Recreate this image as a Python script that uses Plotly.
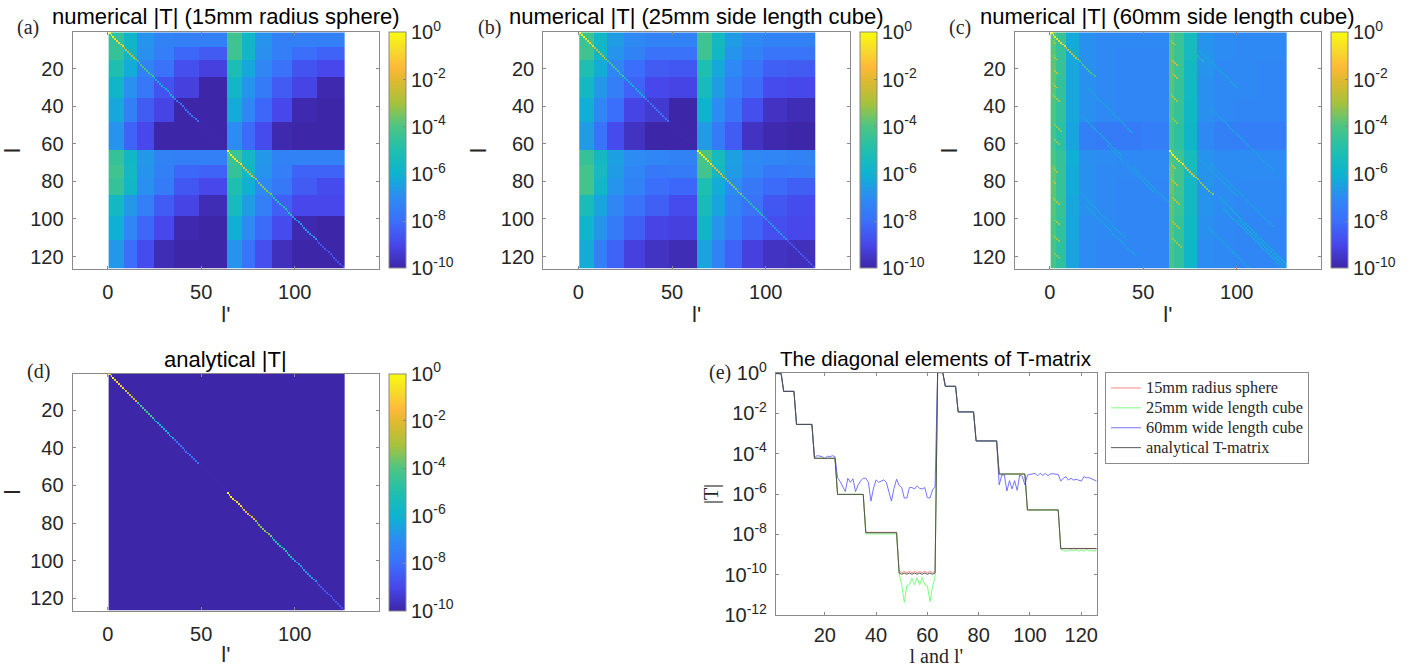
import numpy as np
import plotly.graph_objects as go

W, H = 1410, 667

# ---------- data (log10 |T|) ----------
block_edges = [0, 8, 15, 24, 35, 48, 63, 71, 78, 87, 98, 111, 126]
diag_edges = [0, 3, 8, 15, 24, 35, 48, 63, 66, 71, 78, 87, 98, 111, 126]
c_col_edges = [0, 3, 8, 15, 24, 35, 48, 63, 66, 71, 78, 87, 98, 111, 126]
index_values = list(range(1, 127))

table_a = [
    [-4.6, -5.8, -6.8, -7.3, -7.4, -7.4, -4.3, -5.7, -6.8, -7.4, -7.4, -7.4],
    [-4.5, -5.8, -6.9, -7.5, -8.2, -8.5, -4.3, -5.7, -6.9, -7.5, -8.0, -8.3],
    [-5.1, -6.2, -7.3, -7.9, -8.8, -9.2, -5.2, -6.3, -7.2, -7.9, -8.7, -9.0],
    [-5.8, -6.9, -7.7, -8.7, -9.2, -10., -5.7, -6.8, -7.6, -8.5, -9.1, -9.9],
    [-6.3, -7.4, -8.5, -9.1, -10., -10., -6.2, -7.2, -8.2, -9.0, -9.9, -10.],
    [-6.8, -8.3, -9.0, -10., -10., -10., -7.0, -8.1, -8.9, -9.9, -10., -10.],
    [-4.5, -5.7, -6.7, -7.3, -7.4, -7.4, -4.4, -5.6, -6.7, -7.3, -7.3, -7.3],
    [-4.3, -5.6, -6.8, -7.4, -8.2, -8.3, -4.5, -5.7, -6.8, -7.5, -8.3, -8.3],
    [-4.5, -5.7, -6.9, -7.6, -8.6, -9.0, -5.1, -6.1, -7.1, -7.7, -8.5, -8.9],
    [-5.6, -6.7, -7.5, -8.5, -9.1, -9.8, -5.5, -6.6, -7.5, -8.4, -9.0, -9.0],
    [-6.1, -7.2, -8.2, -9.0, -9.9, -10., -6.1, -7.1, -8.1, -8.9, -9.9, -10.],
    [-6.7, -8.0, -8.9, -9.8, -10., -10., -6.8, -7.9, -8.8, -9.7, -10., -10.],
]
table_b = [
    [-4.4, -5.7, -6.6, -7.1, -7.3, -7.3, -4.3, -5.6, -6.6, -7.1, -7.3, -7.3],
    [-4.3, -5.7, -6.8, -7.3, -7.9, -7.9, -4.3, -5.7, -6.8, -7.3, -7.8, -7.8],
    [-5.1, -6.2, -7.2, -8.0, -8.5, -8.6, -5.1, -6.3, -7.1, -7.8, -8.4, -8.5],
    [-5.6, -6.7, -7.5, -8.3, -9.0, -9.1, -5.5, -6.6, -7.5, -8.1, -8.9, -9.0],
    [-6.1, -7.2, -8.0, -9.1, -9.4, -10., -6.0, -7.0, -7.9, -8.8, -9.6, -9.8],
    [-6.6, -7.9, -8.9, -9.6, -10., -10., -6.6, -7.6, -8.5, -9.6, -9.9, -10.],
    [-4.5, -5.6, -6.5, -7.0, -7.2, -7.3, -4.1, -5.5, -6.5, -7.1, -7.2, -7.3],
    [-4.2, -5.5, -6.6, -7.2, -7.7, -7.6, -4.2, -5.6, -6.6, -7.2, -7.7, -7.6],
    [-4.2, -5.7, -6.8, -7.3, -8.0, -8.2, -5.1, -6.2, -7.0, -7.7, -8.1, -8.4],
    [-5.3, -6.4, -7.2, -7.9, -8.4, -8.9, -5.4, -6.4, -7.3, -7.9, -8.6, -8.9],
    [-5.9, -6.8, -7.6, -8.4, -9.1, -9.2, -5.8, -6.8, -7.6, -8.3, -8.8, -9.0],
    [-6.2, -7.5, -8.3, -9.2, -9.6, -9.8, -6.4, -7.3, -8.3, -9.2, -9.6, -9.7],
]
table_c = [
    [-3.9, -4.5, -6.2, -6.9, -7.1, -7.1, -7.1, -3.9, -4.4, -5.5, -6.8, -7.0, -7.1, -7.1],
    [-3.9, -4.5, -6.2, -6.9, -7.1, -7.2, -7.2, -3.8, -4.4, -5.5, -6.8, -7.0, -7.1, -7.1],
    [-3.8, -4.5, -6.3, -6.9, -7.1, -7.2, -7.2, -3.8, -4.4, -5.6, -6.8, -7.1, -7.1, -7.2],
    [-3.8, -4.6, -6.3, -6.9, -7.1, -7.2, -7.2, -3.9, -4.5, -5.6, -6.9, -7.1, -7.1, -7.2],
    [-4.0, -4.6, -6.3, -6.9, -7.1, -7.2, -7.2, -4.0, -4.5, -5.7, -6.9, -7.1, -7.2, -7.2],
    [-4.2, -4.8, -6.4, -7.4, -7.6, -7.6, -7.5, -4.2, -4.7, -5.8, -7.1, -7.4, -7.5, -7.5],
    [-4.0, -4.5, -6.1, -6.9, -7.0, -7.1, -7.1, -3.9, -4.4, -5.4, -6.8, -7.0, -7.0, -7.0],
    [-3.8, -4.5, -6.2, -6.9, -7.1, -7.1, -7.1, -3.7, -4.3, -5.5, -6.8, -7.0, -7.0, -7.0],
    [-3.8, -4.5, -6.2, -6.9, -7.1, -7.2, -7.2, -3.7, -4.3, -5.6, -6.8, -7.0, -7.1, -7.1],
    [-3.9, -4.5, -6.3, -6.9, -7.1, -7.2, -7.2, -3.8, -4.4, -5.6, -6.8, -7.0, -7.1, -7.1],
    [-4.0, -4.6, -6.3, -7.0, -7.1, -7.2, -7.2, -3.9, -4.5, -5.7, -6.9, -7.1, -7.2, -7.2],
    [-4.1, -4.7, -6.4, -7.0, -7.2, -7.2, -7.2, -4.1, -4.6, -5.8, -7.0, -7.1, -7.2, -7.2],
]
# faint diagonal streaks seen in panel (c): first row, first column, length, log10 |T|
c_streaks = [
    (4, 1, 2, -2.9), (12, 1, 3, -2.7), (20, 2, 2, -2.6), (27, 1, 3, -2.7), (33, 1, 4, -3.0),
    (48, 1, 5, -3.3), (57, 2, 3, -3.2), (72, 1, 3, -2.8), (79, 1, 2, -2.6), (88, 1, 4, -2.8),
    (100, 2, 3, -3.0), (108, 1, 4, -3.1), (118, 2, 3, -3.3),
    (4, 64, 3, -2.8), (14, 64, 4, -2.5), (22, 65, 3, -2.6), (33, 64, 4, -2.9), (46, 65, 3, -3.2),
    (70, 64, 3, -2.8), (78, 64, 4, -2.6), (88, 65, 4, -2.7), (100, 64, 5, -3.0), (110, 65, 5, -3.2),
    (30, 20, 24, -6.5), (44, 16, 22, -6.5), (60, 30, 26, -6.6), (80, 10, 30, -6.5),
    (92, 18, 28, -6.5), (72, 44, 30, -6.6), (2, 68, 14, -5.3), (10, 80, 20, -6.4),
    (40, 85, 34, -6.6), (60, 72, 28, -6.5), (88, 90, 37, -6.3), (94, 92, 32, -6.4),
    (70, 85, 34, -6.6), (100, 100, 26, -6.3), (104, 84, 22, -6.5),
]
# step levels of the diagonal, one per block of diag_edges
analytical_levels = [-0.03, -0.91, -2.55, -4.23, -6.02, -7.92, -9.95,
                     0.02, -0.66, -1.93, -3.37, -5.01, -6.79, -8.71]
sphere_levels = [-0.03, -0.91, -2.55, -4.23, -6.02, -7.90, -9.86,
                 0.02, -0.66, -1.93, -3.37, -5.01, -6.79, -8.70]
cube25_levels = [-0.03, -0.91, -2.55, -4.23, -6.02, -7.98, -10.5,
                 0.02, -0.66, -1.93, -3.37, -5.01, -6.80, -8.80]
cube25_block7 = [-9.97, -10.5, -11.37, -10.55, -10.5, -10.18, -10.5, -10.15, -10.5,
                 -10.15, -10.5, -10.55, -11.34, -10.6, -10.1]
cube25_block14 = [-8.74, -8.79, -8.84, -8.81, -8.76, -8.82, -8.76, -8.84, -8.79,
                  -8.84, -8.74, -8.82, -8.81, -8.84, -8.77]
cube60_16_24 = [-4.2, -4.1, -4.12, -4.15, -4.25, -4.12, -4.15, -4.1, -4.15]
cube60_25_63 = [-5.2, -5.38, -5.62, -5.88, -5.22, -5.42, -5.25, -5.88, -5.55, -5.35, -5.22,
                -5.22, -5.42, -6.35, -5.72, -5.3, -5.42, -5.35, -5.3, -5.42, -5.95, -6.35,
                -5.72, -5.27, -5.58, -5.68, -6.2, -6.2, -5.68, -5.68, -5.75, -5.6, -5.72,
                -5.75, -5.68, -6.18, -6.2, -5.8, -5.64]
cube60_88_126 = [-5.55, -5.06, -5.06, -5.85, -5.34, -5.75, -5.34, -5.82, -5.06, -5.13, -5.55,
                 -5.06, -5.03, -5.02, -4.98, -5.1, -4.97, -5.08, -4.98, -5.1, -5.0, -5.0,
                 -5.03, -5.03, -5.36, -5.22, -5.14, -5.31, -5.22, -5.31, -5.27, -5.31, -5.36,
                 -5.14, -5.19, -5.19, -5.26, -5.31, -5.36]
sphere_block7_band = [-9.84, -9.9, -9.84, -9.9, -9.84, -9.9, -9.84, -9.9, -9.84, -9.9, -9.84,
                      -9.9, -9.84, -9.9, -9.84]
analytical_block7_band = [-9.92, -9.98, -9.92, -9.98, -9.92, -9.98, -9.92, -9.98, -9.92, -9.98,
                          -9.92, -9.98, -9.92, -9.98, -9.92]

x_ticks_heat = [0, 50, 100]
y_ticks_heat = [20, 40, 60, 80, 100, 120]
cbar_exponents = [0, -2, -4, -6, -8, -10]
x_ticks_line = [20, 40, 60, 80, 100, 120]
y_exponents_line = [0, -2, -4, -6, -8, -10, -12]
series_names = ["15mm radius sphere", "25mm wide length cube", "60mm wide length cube", "analytical T-matrix"]
series_colors = ["#ff7a7a", "#70ff70", "#6464ff", "#454545"]
panel_titles = ["numerical |T| (15mm radius sphere)", "numerical |T| (25mm side length cube)",
                "numerical |T| (60mm side length cube)", "analytical |T|"]
panel_tags = ["(a)", "(b)", "(c)", "(d)", "(e)"]

parula = [[0.0, "#3e26a8"], [0.1, "#4747eb"], [0.2, "#3b6ffb"], [0.3, "#2d8cf3"], [0.4, "#0cb4cf"],
          [0.5, "#20bfae"], [0.6, "#4cc583"], [0.7, "#a8c23c"], [0.8, "#e2b92f"], [0.85, "#feb938"],
          [0.92, "#f7d92c"], [1.0, "#f9fb0e"]]


def steps(levels):
    out = []
    for k, v in enumerate(levels):
        out += [v] * (diag_edges[k + 1] - diag_edges[k])
    return out


def matrix(table, cols, rows=block_edges):
    z = np.full((126, 126), -10.0)
    for r, row in enumerate(table):
        for c, v in enumerate(row):
            z[rows[r]:rows[r + 1], cols[c]:cols[c + 1]] = v
    return z


def put_diag(z, values):
    for i, v in enumerate(values):
        if v is not None:
            z[i, i] = max(z[i, i], v)
    return z


analytical = steps(analytical_levels)
sphere = steps(sphere_levels)
cube25 = steps(cube25_levels)
cube60 = steps(analytical_levels)
analytical[48:63] = analytical_block7_band
sphere[48:63] = sphere_block7_band
cube25[48:63] = cube25_block7
cube25[111:126] = cube25_block14
cube60[15:24] = cube60_16_24
cube60[24:63] = cube60_25_63
cube60[87:126] = cube60_88_126

z_a = put_diag(matrix(table_a, block_edges), steps(analytical_levels))
z_b = put_diag(matrix(table_b, block_edges), steps(analytical_levels))
z_c = matrix(table_c, c_col_edges)
for r0, c0, n, v in c_streaks:
    for k in range(n):
        if r0 + k < 126 and c0 + k < 126:
            z_c[r0 + k, c0 + k] = max(z_c[r0 + k, c0 + k], v)
vis = steps(analytical_levels)
put_diag(z_c, vis[:24] + [None] * 39 + vis[63:87] + [None] * 39)
z_d = put_diag(np.full((126, 126), -10.0), steps(analytical_levels))

# ---------- layout helpers ----------
GRAY = "#8a8a8a"
TXT = "#262626"
SANS = "Liberation Sans, Arial, sans-serif"
SERIF = "Liberation Serif, Times New Roman, serif"
FS = 20

boxes = [(72.7, 379, 32.3, 268.7), (543.3, 850, 32.3, 268.7), (1014.7, 1321, 32.3, 268.7), (72.7, 379, 373.5, 610.5)]
cbar_left = [389, 860, 1331, 389]
tag_pos = [(28, 28), (489, 27), (960, 27), (38, 371), (720, 372)]
title_y = [17, 17, 17, 359]

fig = go.Figure()
layout = {}
annotations = []


def sup(e):
    return "10<sup>%d</sup>" % e


for i, z in enumerate([z_a, z_b, z_c, z_d]):
    x0, x1, y0, y1 = boxes[i]
    n = "" if i == 0 else str(i + 1)
    fig.add_trace(go.Heatmap(
        z=z, x=index_values, y=index_values, zmin=-10, zmax=0, colorscale=parula,
        xaxis="x" + n, yaxis="y" + n,
        colorbar=dict(x=cbar_left[i] / W, xanchor="left", xpad=0, ypad=0,
                      y=1 - y0 / H, yanchor="top", len=y1 - y0, lenmode="pixels",
                      thickness=17, thicknessmode="pixels",
                      tickvals=cbar_exponents, ticktext=[sup(e) for e in cbar_exponents],
                      ticks="inside", ticklen=3, tickcolor=GRAY,
                      tickfont=dict(family=SANS, size=FS, color=TXT),
                      outlinecolor=GRAY, outlinewidth=1),
    ))
    layout["xaxis" + n] = dict(
        domain=[x0 / W, x1 / W], anchor="y" + n, range=[-18.7, 145], tickmode="array", tickvals=x_ticks_heat,
        ticks="inside", ticklen=3, tickcolor=GRAY, showgrid=False, zeroline=False, showline=True, linecolor=GRAY,
        linewidth=1.2, mirror="ticks", ticklabelstandoff=5, tickfont=dict(family=SANS, size=FS, color=TXT),
        title=dict(text="l'", standoff=4, font=dict(family=SANS, size=22, color=TXT)))
    layout["yaxis" + n] = dict(
        domain=[1 - y1 / H, 1 - y0 / H], anchor="x" + n, range=[126.5, 0.5], tickmode="array", tickvals=y_ticks_heat,
        ticks="inside", ticklen=3, tickcolor=GRAY, showgrid=False, zeroline=False, showline=True, linecolor=GRAY,
        linewidth=1.2, mirror="ticks", ticklabelstandoff=4, tickfont=dict(family=SANS, size=FS, color=TXT),
        title=dict(text="l", standoff=8, font=dict(family=SANS, size=22, color=TXT)))
    annotations.append(dict(text=panel_titles[i], x=(x0 + x1) / 2 / W, y=1 - title_y[i] / H, xref="paper", yref="paper",
                            showarrow=False, xanchor="center", yanchor="middle",
                            font=dict(family=SANS, size=22, color="#000000")))

for name, vals, col in zip(series_names, [sphere, cube25, cube60, analytical], series_colors):
    fig.add_trace(go.Scatter(x=index_values, y=[10.0 ** v for v in vals], mode="lines",
                             name='<span style="font-size:16.3px">%s</span>' % name,
                             line=dict(color=col, width=0.9), xaxis="x5", yaxis="y5"))

ex0, ex1, ey0, ey1 = 776, 1096.7, 373, 615
layout["xaxis5"] = dict(
    domain=[ex0 / W, ex1 / W], anchor="y5", range=[1, 126], tickmode="array", tickvals=x_ticks_line,
    ticks="inside", ticklen=3, tickcolor=GRAY, showgrid=False, zeroline=False, showline=True, linecolor=GRAY,
    linewidth=1.2, mirror="ticks", ticklabelstandoff=2, tickfont=dict(family=SANS, size=FS, color=TXT),
    title=dict(text="l and l'", standoff=7, font=dict(family=SERIF, size=20, color=TXT)))
layout["yaxis5"] = dict(
    domain=[1 - ey1 / H, 1 - ey0 / H], anchor="x5", type="log", range=[-12, 0], tickmode="array",
    tickvals=[10.0 ** e for e in y_exponents_line], ticktext=[sup(e) for e in y_exponents_line],
    ticks="inside", ticklen=3, tickcolor=GRAY, showgrid=False, zeroline=False, showline=True, linecolor=GRAY,
    linewidth=1.2, mirror="ticks", ticklabelstandoff=4, tickfont=dict(family=SANS, size=FS, color=TXT),
    title=dict(text="|T|", standoff=0, font=dict(family=SERIF, size=20, color=TXT)))
annotations.append(dict(text="The diagonal elements of T-matrix", x=(ex0 + ex1) / 2 / W, y=1 - 358 / H,
                        xref="paper", yref="paper", showarrow=False, xanchor="center", yanchor="middle",
                        font=dict(family=SANS, size=20.6, color="#000000")))
for tag, (tx, ty) in zip(panel_tags, tag_pos):
    annotations.append(dict(text=tag, x=tx / W, y=1 - ty / H, xref="paper", yref="paper", showarrow=False,
                            xanchor="center", yanchor="middle", font=dict(family=SERIF, size=20, color=TXT)))

fig.update_layout(
    width=W, height=H, margin=dict(l=0, r=0, t=0, b=0, pad=0, autoexpand=False),
    paper_bgcolor="white", plot_bgcolor="white",
    annotations=annotations, showlegend=True,
    legend=dict(x=1105 / W, xanchor="left", y=1 - 372 / H, yanchor="top", bgcolor="white",
                bordercolor=GRAY, borderwidth=1, itemwidth=30, tracegroupgap=0,
                entrywidth=156, entrywidthmode="pixels",
                font=dict(family=SERIF, size=13, color=TXT)),
    **layout)

fig.write_html("out.html", config={"displayModeBar": False}, post_script="document.body.style.margin='0';")
